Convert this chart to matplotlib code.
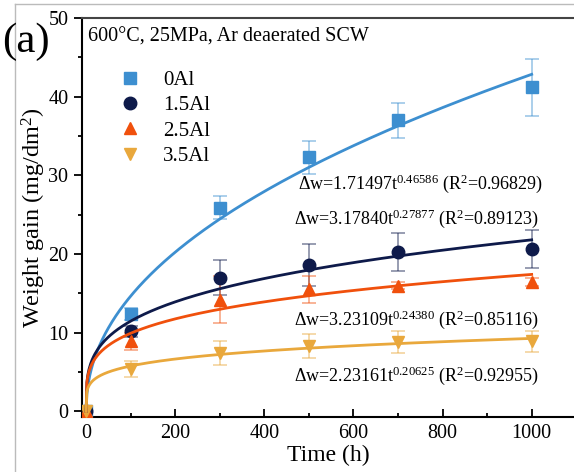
import numpy as np
import matplotlib
matplotlib.use('Agg')
import matplotlib.pyplot as plt
from matplotlib.lines import Line2D
from matplotlib.ticker import MultipleLocator

plt.rcParams['font.family'] = 'Liberation Serif'
plt.rcParams['mathtext.fontset'] = 'custom'
plt.rcParams['mathtext.rm'] = 'Liberation Serif'
plt.rcParams['mathtext.it'] = 'Liberation Serif'

# Data
time = [0, 100, 300, 500, 700, 1000]
labels = ['0Al', '1.5Al', '2.5Al', '3.5Al']
gain_0al = [0, 12.4, 25.9, 32.3, 37.0, 41.2]
gain_15al = [0, 10.2, 17.0, 18.6, 20.3, 20.6]
gain_25al = [0, 8.9, 14.2, 15.5, 16.0, 16.5]
gain_35al = [0, 5.4, 7.4, 8.3, 8.8, 8.9]
err_0al = [0, 0.8, 1.5, 2.1, 2.2, 3.6]
err_15al = [0, 0.7, 2.2, 2.7, 2.4, 2.4]
err_25al = [0, 1.1, 3.0, 1.7, 0.4, 0.5]
err_35al = [0, 1.0, 1.5, 1.5, 1.4, 1.3]

# power law fits  dw = a * t^b
fit_a = [1.71497, 3.17840, 3.23109, 2.23161]
fit_b = [0.46586, 0.27877, 0.24380, 0.20625]
fit_r2 = ['0.96829', '0.89123', '0.85116', '0.92955']

gains = [gain_0al, gain_15al, gain_25al, gain_35al]
errs = [err_0al, err_15al, err_25al, err_35al]
colors = ['#3d8fd0', '#0e1a4a', '#f0500c', '#e9a83c']
markers = ['s', 'o', '^', 'v']

fig = plt.figure(figsize=(5.74, 4.72), dpi=100)
ax = fig.add_axes([0.1423, 0.1159, 0.8577, 0.846])

t = np.linspace(0, 1000, 600)
for g, e, c, m, lab, a, b in zip(gains, errs, colors, markers, labels, fit_a, fit_b):
    ax.errorbar(time, g, yerr=e, fmt='none', ecolor=c, alpha=0.5,
                elinewidth=1.2, capsize=5, capthick=1.2, zorder=2)
    ax.plot(time, g, linestyle='none', marker=m, color=c, markersize=9,
            label=lab, zorder=3)
    ax.plot(t, a * t ** b, color=c, linewidth=2, zorder=4)

ax.set_xlim(-10, 1095)
ax.set_ylim(-0.75, 50)
ax.xaxis.set_major_locator(MultipleLocator(200))
ax.xaxis.set_minor_locator(MultipleLocator(100))
ax.yaxis.set_major_locator(MultipleLocator(10))
ax.yaxis.set_minor_locator(MultipleLocator(5))
ax.tick_params(axis='x', which='both', direction='in', labelsize=14.5, width=1.3, pad=5)
ax.tick_params(axis='x', which='major', length=6)
ax.tick_params(axis='x', which='minor', length=3)
ax.tick_params(axis='y', which='both', direction='out', labelsize=14.5, width=1.3)
ax.tick_params(axis='y', which='major', length=6)
ax.tick_params(axis='y', which='minor', length=3)
ax.spines['right'].set_visible(False)
for s in ['left', 'bottom', 'top']:
    ax.spines[s].set_linewidth(1.5)
ax.spines['top'].set_color('#444444')

ax.set_xlabel('Time (h)', fontsize=17, labelpad=1)
ax.set_ylabel('Weight gain (mg/dm$^2$)', fontsize=17.5, labelpad=0)

ax.text(0.012, 0.975, '600°C, 25MPa, Ar deaerated SCW', transform=ax.transAxes,
        fontsize=14.5, va='top', ha='left')

leg = ax.legend(loc='upper left', bbox_to_anchor=(0.055, 0.89), frameon=False,
                fontsize=15, handletextpad=1.0, labelspacing=0.28,
                borderaxespad=0, handlelength=1.2)

eq_pos = [(0.439, 0.585), (0.431, 0.497), (0.431, 0.245), (0.431, 0.105)]
for (x, y), a, b, r2 in zip(eq_pos, fit_a, fit_b, fit_r2):
    ax.text(x, y, r'$\Delta$w=%.5ft$^{%.5f}$ (R$^{2}$=%s)' % (a, b, r2),
            transform=ax.transAxes, fontsize=13, ha='left', va='center')

fig.text(0.003, 0.912, '(a)', fontsize=31, ha='left', va='center')

# thin grey frame of the source picture
fig.add_artist(Line2D([0.026, 0.026], [0, 0.992], transform=fig.transFigure,
                      color='#bbbbbb', linewidth=1))
fig.add_artist(Line2D([0.026, 1], [0.992, 0.992], transform=fig.transFigure,
                      color='#bbbbbb', linewidth=1))

fig.savefig('out.png', dpi=100)
